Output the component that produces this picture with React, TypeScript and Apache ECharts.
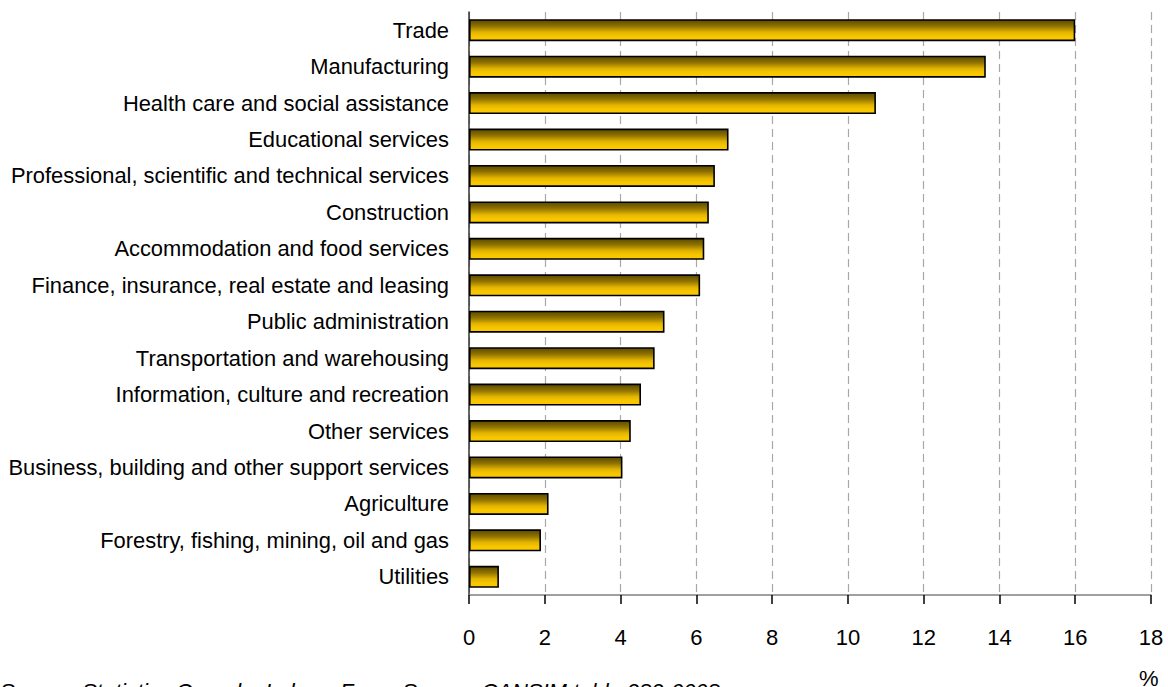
import React, { useEffect, useRef } from "react";
import * as echarts from "echarts";

const categories = [
  "Trade",
  "Manufacturing",
  "Health care and social assistance",
  "Educational services",
  "Professional, scientific and technical services",
  "Construction",
  "Accommodation and food services",
  "Finance, insurance, real estate and leasing",
  "Public administration",
  "Transportation and warehousing",
  "Information, culture and recreation",
  "Other services",
  "Business, building and other support services",
  "Agriculture",
  "Forestry, fishing, mining, oil and gas",
  "Utilities",
];
const values = [16.0, 13.64, 10.74, 6.85, 6.49, 6.33, 6.21, 6.1, 5.16, 4.9, 4.54, 4.27, 4.05, 2.1, 1.9, 0.79];
const xTicks = { min: 0, max: 18, interval: 2 };
const unitLabel = "%";
const sourceText = "Source: Statistics Canada, Labour Force Survey, CANSIM table 282-0008.";

const FONT = "'Liberation Sans', Arial, Helvetica, sans-serif";

export default function App() {
  const ref = useRef<HTMLDivElement>(null);
  useEffect(() => {
    if (!ref.current) return;
    const chart = echarts.init(ref.current, null, { renderer: "svg" });
    chart.setOption({
      animation: false,
      backgroundColor: "#ffffff",
      textStyle: { fontFamily: FONT },
      grid: { left: 469, right: 17, top: 12, bottom: 92, containLabel: false },
      xAxis: {
        type: "value",
        min: xTicks.min,
        max: xTicks.max,
        interval: xTicks.interval,
        axisLine: { show: true, lineStyle: { color: "#808080", width: 1.5 } },
        axisTick: { show: true, length: 9, lineStyle: { color: "#000000", width: 1.5 } },
        axisLabel: { color: "#000000", fontSize: 22, fontFamily: FONT, margin: 31 },
        splitLine: { show: true, lineStyle: { color: "#a8a8a8", type: [8, 5], width: 1.2 } },
      },
      yAxis: {
        type: "category",
        data: categories,
        inverse: true,
        axisLine: { show: true, onZero: false, lineStyle: { color: "#333333", width: 1.5 } },
        axisTick: { show: false },
        axisLabel: { color: "#000000", fontSize: 21.9, fontFamily: FONT, margin: 20 },
        splitLine: { show: false },
      },
      series: [
        {
          type: "bar",
          data: values,
          barWidth: 22,
          itemStyle: {
            color: new echarts.graphic.LinearGradient(0, 0, 0, 1, [
              { offset: 0, color: "#5c4a00" },
              { offset: 0.3, color: "#8f7200" },
              { offset: 0.6, color: "#e2b400" },
              { offset: 0.8, color: "#f7c600" },
              { offset: 1, color: "#fac900" },
            ]),
            borderColor: "#000000",
            borderWidth: 1.6,
          },
        },
      ],
      graphic: [
        {
          type: "text",
          left: 1139,
          top: 667,
          style: { text: unitLabel, font: `22px ${FONT}`, fill: "#000000" },
        },
        {
          type: "text",
          left: 0,
          top: 680,
          style: { text: sourceText, font: `italic 22px ${FONT}`, fill: "#000000" },
        },
      ],
    });
    return () => chart.dispose();
  }, []);
  return (
    <div
      ref={ref}
      style={{ position: "fixed", left: 0, top: 0, width: 1168, height: 687, background: "#fff" }}
    />
  );
}
